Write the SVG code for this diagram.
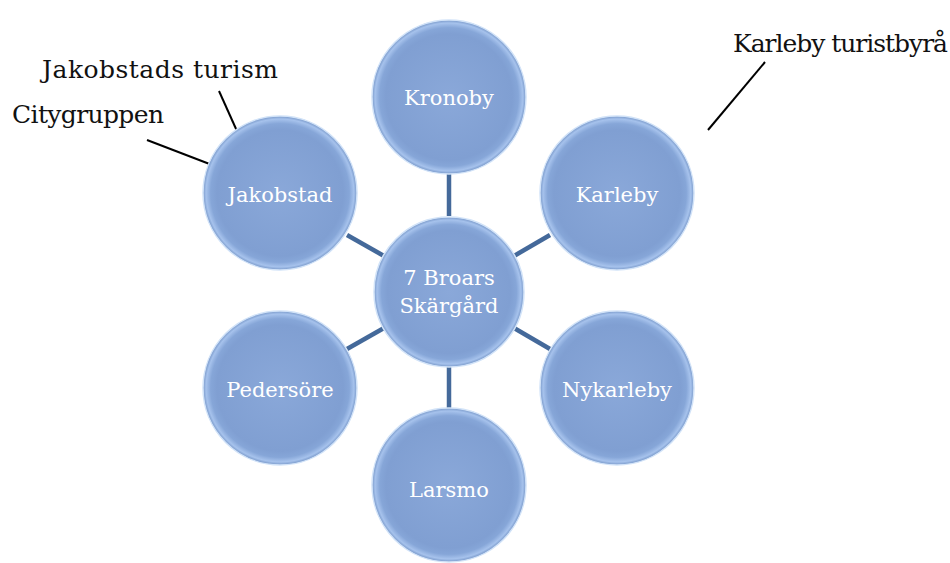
<svg xmlns="http://www.w3.org/2000/svg" width="950" height="563" viewBox="0 0 950 563">
<defs>
<radialGradient id="g" cx="0.5" cy="0.5" r="0.5">
<stop offset="0" stop-color="#8aa8d9"/>
<stop offset="0.82" stop-color="#809fd2"/>
<stop offset="0.9" stop-color="#86a6d8"/>
<stop offset="0.96" stop-color="#a6c2ec"/>
<stop offset="1" stop-color="#7898c9"/>
</radialGradient>
<style>
.c{fill:url(#g);stroke:#d2e3f8;stroke-width:1.5}
.t{font-family:"DejaVu Serif","Liberation Serif",serif;font-size:21px;fill:#ffffff;text-anchor:middle}
.l{font-family:"DejaVu Serif","Liberation Serif",serif;font-size:25px;fill:#111111}
.cn{stroke:#44699a;stroke-width:4.5}
.cl{stroke:#000;stroke-width:2}
</style>
</defs>
<g id="connectors">
<line class="cn" x1="449" y1="172" x2="449" y2="216"/>
<line class="cn" x1="449" y1="366" x2="449" y2="410"/>
<line class="cn" x1="347" y1="235" x2="384" y2="256"/>
<line class="cn" x1="514" y1="256" x2="550" y2="235"/>
<line class="cn" x1="347" y1="349" x2="384" y2="328"/>
<line class="cn" x1="514" y1="328" x2="550" y2="349"/>
<line class="cl" x1="219" y1="91" x2="241" y2="140"/>
<line class="cl" x1="147" y1="140" x2="220" y2="168"/>
<line class="cl" x1="765" y1="62" x2="708" y2="130"/>
</g>
<g id="center"><circle class="c" cx="449" cy="292" r="75"/><text class="t" x="449" y="285">7 Broars</text><text class="t" x="449" y="313">Skärgård</text></g>
<g id="kronoby"><circle class="c" cx="449" cy="97" r="77"/><text class="t" x="449" y="105">Kronoby</text></g>
<g id="jakobstad"><circle class="c" cx="280" cy="193" r="77"/><text class="t" x="280" y="202">Jakobstad</text></g>
<g id="karleby"><circle class="c" cx="617" cy="193" r="77"/><text class="t" x="617" y="202">Karleby</text></g>
<g id="pedersore"><circle class="c" cx="280" cy="388" r="77"/><text class="t" x="280" y="397">Pedersöre</text></g>
<g id="nykarleby"><circle class="c" cx="617" cy="388" r="77"/><text class="t" x="617" y="397">Nykarleby</text></g>
<g id="larsmo"><circle class="c" cx="449" cy="485" r="77"/><text class="t" x="449" y="497">Larsmo</text></g>
<g id="labels">
<text class="l" x="42" y="78" textLength="236">Jakobstads turism</text>
<text class="l" x="12" y="123" textLength="152">Citygruppen</text>
<text class="l" x="733" y="52" textLength="215">Karleby turistbyrå</text>
</g>
</svg>
